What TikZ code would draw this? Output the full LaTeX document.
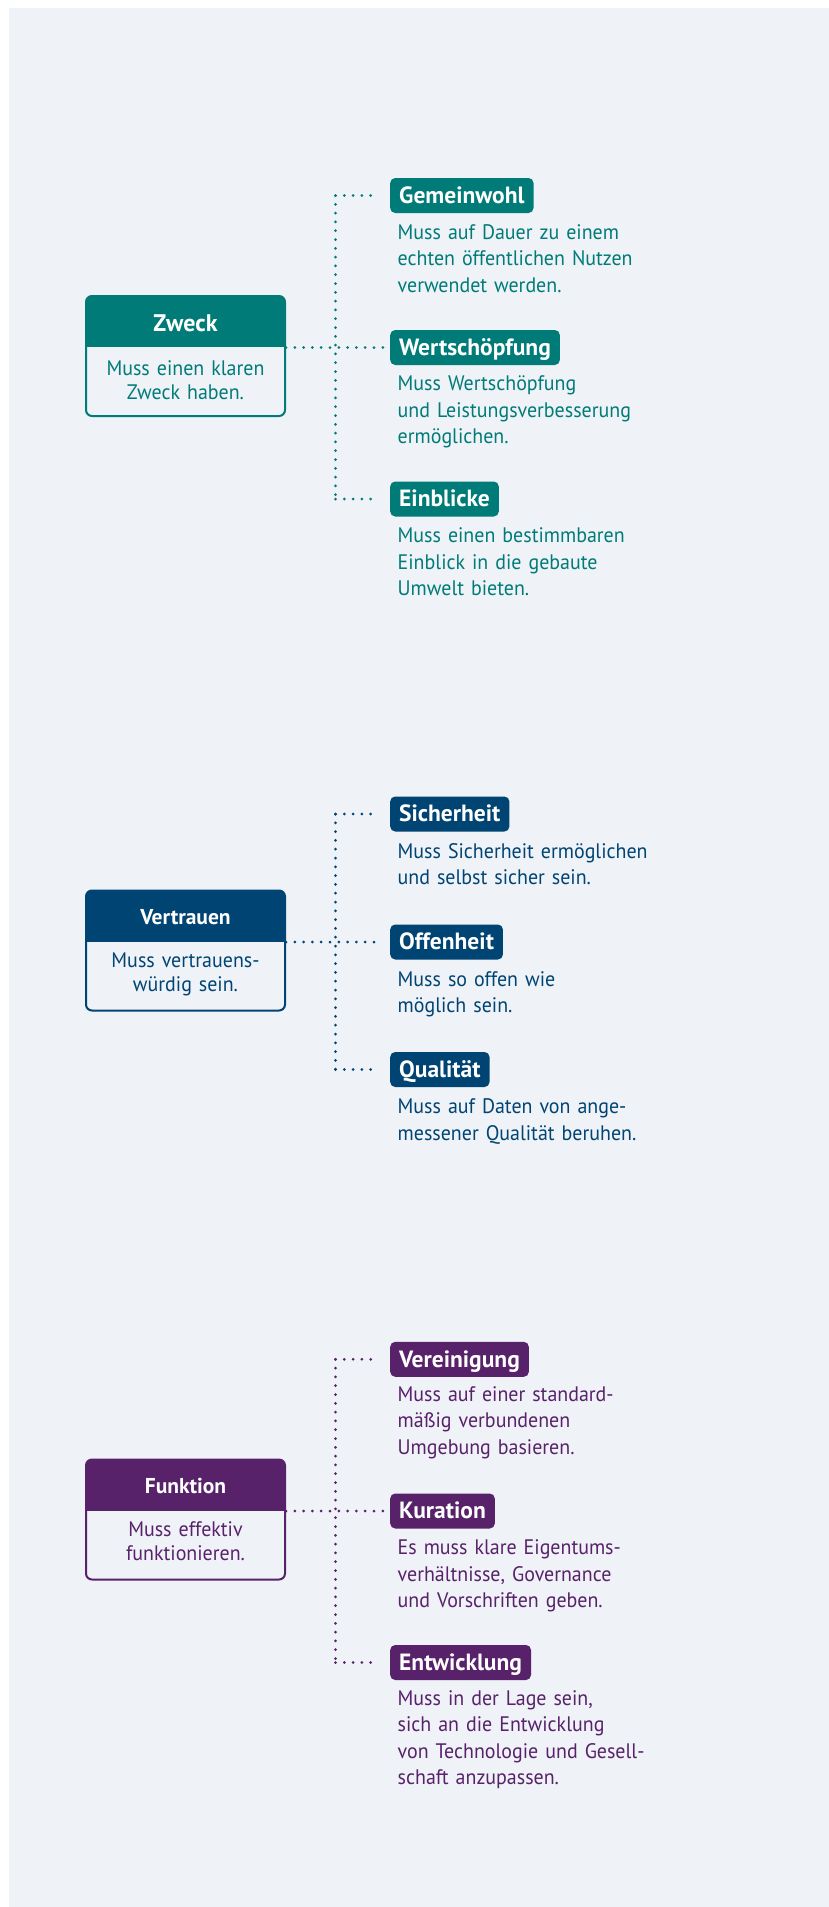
\documentclass[tikz,border=0pt]{standalone}
\usepackage{fontspec}
\setmainfont{PT Sans}
\newfontfamily\narrowfont[FakeStretch=0.95]{PT Sans}
\definecolor{pagebg}{HTML}{EFF2F7}
\definecolor{cteal}{HTML}{007B78}
\definecolor{cnavy}{HTML}{004474}
\definecolor{cpurple}{HTML}{58226A}
\tikzset{
  card/.style={draw=#1, line width=2pt, rounded corners=6pt, fill=pagebg,
    minimum width=199pt, minimum height=120pt, inner sep=0pt,
    path picture={\fill[#1, sharp corners] (path picture bounding box.north west)
      rectangle ([yshift=-51pt]path picture bounding box.north east);}},
  cardtitle/.style={text=white, anchor=base, inner sep=0pt,
    font=\bfseries\fontsize{21.5}{24}\selectfont},
  cardbody/.style={text=#1, anchor=base, inner sep=0pt, text width=190pt,
    align=center, font=\narrowfont\fontsize{21}{24}\selectfont},
  tag/.style={fill=#1, text=white, rounded corners=5pt, anchor=west,
    inner xsep=9pt, inner ysep=0pt, minimum height=35pt,
    text height=15.5pt, text depth=0pt,
    font=\bfseries\fontsize{23.5}{24}\selectfont},
  desc/.style={text=#1, anchor=base west, inner sep=0pt, text width=330pt,
    align=left, font=\narrowfont\fontsize{21}{26.5}\selectfont},
  link/.style={draw=#1, line width=3pt, line cap=round,
    dash pattern=on 0pt off 8.8pt},
}
\begin{document}
\begin{tikzpicture}[x=1pt, y=-1pt]
  % page and panel
  \useasboundingbox (0,0) rectangle (829,1907);
  \fill[pagebg] (9,8) rectangle (829,1907);

  % ---------- Zweck ----------
  \node[card=cteal] (zweck) at (185.5,356) {};
  \node[cardtitle, font=\bfseries\fontsize{24}{24}\selectfont] (zweckT) at (185.5,331.7) {Zweck};
  \node[cardbody=cteal] (zweckB) at (185.5,375) {Muss einen klaren\\Zweck haben.};

  \node[tag=cteal] (gem) at (390,195.5) {Gemeinwohl};
  \node[desc=cteal] (gemD) at (397.5,239) {Muss auf Dauer zu einem\\echten öffentlichen Nutzen\\verwendet werden.};
  \node[tag=cteal] (wert) at (390,347.5) {Wertschöpfung};
  \node[desc=cteal] (wertD) at (397.5,390.5) {Muss Wertschöpfung\\und Leistungsverbesserung\\ermöglichen.};
  \node[tag=cteal] (ein) at (390,499) {Einblicke};
  \node[desc=cteal] (einD) at (397.5,542.7) {Muss einen bestimmbaren\\Einblick in die gebaute\\Umwelt bieten.};

  \coordinate (zj) at (335.5,347.5);
  \draw[link=cteal] (zj |- gem.west) -- (zj |- ein.west);
  \draw[link=cteal] (zj |- gem.west) -- ([xshift=-12pt]gem.west);
  \draw[link=cteal] (zweck.east |- wert.west) -- ([xshift=-7pt]wert.west);
  \draw[link=cteal] (zj |- ein.west) -- ([xshift=-12pt]ein.west);

  % ---------- Vertrauen ----------
  \node[card=cnavy] (vert) at (185.5,950.5) {};
  \node[cardtitle] (vertT) at (185.5,924) {Vertrauen};
  \node[cardbody=cnavy] (vertB) at (185.5,967.7) {Muss vertrauens-\\würdig sein.};

  \node[tag=cnavy] (sich) at (390,814) {Sicherheit};
  \node[desc=cnavy] (sichD) at (397.5,858) {Muss Sicherheit ermöglichen\\und selbst sicher sein.};
  \node[tag=cnavy] (offen) at (390,942) {Offenheit};
  \node[desc=cnavy] (offenD) at (397.5,986) {Muss so offen wie\\möglich sein.};
  \node[tag=cnavy] (qual) at (390,1069.5) {Qualität};
  \node[desc=cnavy] (qualD) at (397.5,1113.7) {Muss auf Daten von ange-\\messener Qualität beruhen.};

  \coordinate (vj) at (335.5,942);
  \draw[link=cnavy] (vj |- sich.west) -- (vj |- qual.west);
  \draw[link=cnavy] (vj |- sich.west) -- ([xshift=-12pt]sich.west);
  \draw[link=cnavy] (vert.east |- offen.west) -- ([xshift=-8pt]offen.west);
  \draw[link=cnavy] (vj |- qual.west) -- ([xshift=-12pt]qual.west);

  % ---------- Funktion ----------
  \node[card=cpurple] (funk) at (185.5,1519.5) {};
  \node[cardtitle] (funkT) at (185.5,1493.3) {Funktion};
  \node[cardbody=cpurple] (funkB) at (185.5,1536.7) {Muss effektiv\\funktionieren.};

  \node[tag=cpurple] (ver) at (390,1359.3) {Vereinigung};
  \node[desc=cpurple] (verD) at (397.5,1401) {Muss auf einer standard-\\mäßig verbundenen\\Umgebung basieren.};
  \node[tag=cpurple] (kur) at (390,1511) {Kuration};
  \node[desc=cpurple] (kurD) at (397.5,1554.7) {Es muss klare Eigentums-\\verhältnisse, Governance\\und Vorschriften geben.};
  \node[tag=cpurple] (ent) at (390,1662.5) {Entwicklung};
  \node[desc=cpurple] (entD) at (397.5,1705.3) {Muss in der Lage sein,\\sich an die Entwicklung\\von Technologie und Gesell-\\schaft anzupassen.};

  \coordinate (fj) at (335.5,1511);
  \draw[link=cpurple] (fj |- ver.west) -- (fj |- ent.west);
  \draw[link=cpurple] (fj |- ver.west) -- ([xshift=-12pt]ver.west);
  \draw[link=cpurple] (funk.east |- kur.west) -- ([xshift=-7pt]kur.west);
  \draw[link=cpurple] (fj |- ent.west) -- ([xshift=-12pt]ent.west);
\end{tikzpicture}
\end{document}
